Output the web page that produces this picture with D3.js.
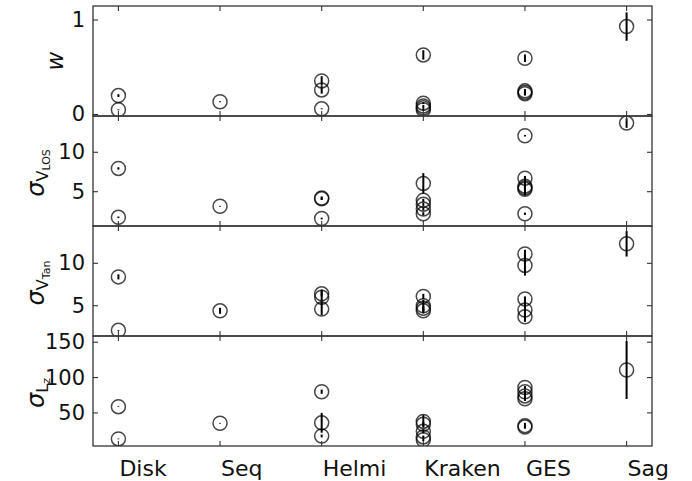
<!DOCTYPE html>
<html>
<head>
<meta charset="utf-8">
<script src="https://cdn.jsdelivr.net/npm/d3@7"></script>
<style>
  body { margin: 0; background: #fff; }
  text { font-family: "DejaVu Sans", sans-serif; fill: #111; }
</style>
</head>
<body>
<div id="chart"></div>
<script>
// categories along the x axis
var categories = ["Disk", "Seq", "Helmi", "Kraken", "GES", "Sag"];

// w (one inner array per category)
var wVals = [[0.20, 0.05], [0.135], [0.355, 0.26, 0.06], [0.63, 0.12, 0.09, 0.07, 0.05], [0.595, 0.25, 0.235, 0.22], [0.93]];
var wErrs = [[0.015, 0.005], [0.005], [0.05, 0.04, 0.005], [0.05, 0.01, 0.01, 0.01, 0.01], [0.04, 0.02, 0.02, 0.02], [0.15]];

// sigma V_LOS
var vlosVals = [[7.95, 1.75], [3.15], [4.2, 4.1, 1.6], [6.05, 3.9, 3.4, 2.8, 2.2], [12.1, 6.7, 5.7, 5.5, 5.3, 2.2], [13.7]];
var vlosErrs = [[0.15, 0.1], [0.05], [0.2, 0.15, 0.1], [1.3, 0.2, 0.2, 0.2, 0.2], [0.1, 0.3, 0.3, 1.0, 0.3, 0.15], [0.6]];

// sigma V_Tan
var vtanVals = [[8.4, 2.1], [4.4], [6.4, 6.0, 4.6], [6.1, 5.0, 4.7, 4.4], [11.1, 9.75, 5.8, 4.5, 3.7], [12.3]];
var vtanErrs = [[0.3, 0.05], [0.35], [0.3, 0.9, 0.7], [0.3, 0.7, 0.3, 0.3], [0.5, 1.2, 0.3, 1.4, 0.2], [1.5]];

// sigma L_z
var lzVals = [[58.8, 13.2], [35.4], [80, 36, 17.4], [38, 34, 24, 16, 12], [86, 80, 74, 70, 32, 30], [110.7]];
var lzErrs = [[0.5, 0.5], [0.5], [3, 14, 2], [9, 3, 3, 2, 2], [2, 3, 7, 2, 4, 2], [41]];

var panels = [
  { vals: wVals, errs: wErrs, domain: [-0.016, 1.148], ticks: [0, 1], label: "w" },
  { vals: vlosVals, errs: vlosErrs, domain: [0.65, 14.6], ticks: [5, 10], label: ["V", "LOS"] },
  { vals: vtanVals, errs: vtanErrs, domain: [1.43, 14.4], ticks: [5, 10], label: ["V", "Tan"] },
  { vals: lzVals, errs: lzErrs, domain: [3.2, 158.8], ticks: [50, 100, 150], label: ["L", "z"] }
];

var svgWidth = 692, svgHeight = 481;
var left = 93, right = 652, top0 = 6, panelH = 110;

var svg = d3.select("#chart").append("svg")
  .attr("width", svgWidth)
  .attr("height", svgHeight);

var x = d3.scaleLinear().domain([-0.25, 5.25]).range([left, right]);
var tickLen = 5;

panels.forEach(function(p, i) {
  var y0 = top0 + i * panelH, y1 = y0 + panelH;
  var y = d3.scaleLinear().domain(p.domain).range([y1, y0]);

  svg.append("clipPath").attr("id", "clip" + i)
    .append("rect").attr("x", left).attr("y", y0).attr("width", right - left).attr("height", panelH);

  var g = svg.append("g");
  var plot = g.append("g").attr("clip-path", "url(#clip" + i + ")");

  var pts = [];
  p.vals.forEach(function(arr, c) {
    arr.forEach(function(v, k) { pts.push({ c: c, v: v, e: p.errs[c][k] }); });
  });

  plot.selectAll(".err").data(pts).enter().append("line")
    .attr("x1", d => x(d.c)).attr("x2", d => x(d.c))
    .attr("y1", d => y(d.v - d.e)).attr("y2", d => y(d.v + d.e))
    .attr("stroke", "#000").attr("stroke-width", 2);

  plot.selectAll(".pt").data(pts).enter().append("circle")
    .attr("cx", d => x(d.c)).attr("cy", d => y(d.v))
    .attr("r", 7)
    .attr("fill", "none")
    .attr("stroke", "rgba(0,0,0,0.72)")
    .attr("stroke-width", 1.5);

  // frame
  g.append("rect").attr("x", left).attr("y", y0).attr("width", right - left).attr("height", panelH)
    .attr("fill", "none").attr("stroke", "#333").attr("stroke-width", 1.3);

  // inward ticks
  categories.forEach(function(c, ci) {
    g.append("line").attr("x1", x(ci)).attr("x2", x(ci)).attr("y1", y1).attr("y2", y1 - tickLen)
      .attr("stroke", "#333").attr("stroke-width", 1.1);
    g.append("line").attr("x1", x(ci)).attr("x2", x(ci)).attr("y1", y0).attr("y2", y0 + tickLen)
      .attr("stroke", "#333").attr("stroke-width", 1.1);
  });
  p.ticks.forEach(function(t) {
    g.append("line").attr("x1", left).attr("x2", left + tickLen).attr("y1", y(t)).attr("y2", y(t))
      .attr("stroke", "#333").attr("stroke-width", 1.1);
    g.append("line").attr("x1", right).attr("x2", right - tickLen).attr("y1", y(t)).attr("y2", y(t))
      .attr("stroke", "#333").attr("stroke-width", 1.1);
    g.append("text").attr("x", left - 8).attr("y", y(t))
      .attr("text-anchor", "end").attr("dominant-baseline", "central")
      .attr("font-size", 21).text(t);
  });

  // y label
  var cy = (y0 + y1) / 2;
  if (i === 0) {
    g.append("text").attr("transform", "translate(63," + cy + ") rotate(-90)")
      .attr("text-anchor", "middle").attr("font-size", 23).attr("font-style", "italic")
      .text(p.label);
  } else {
    var t = g.append("text").attr("transform", "translate(44," + (cy + 2) + ") rotate(-90)")
      .attr("text-anchor", "middle").attr("font-size", 24);
    t.append("tspan").attr("font-style", "italic").text("σ");
    t.append("tspan").attr("font-size", 16).attr("dy", 4).text(p.label[0]);
    t.append("tspan").attr("font-size", 11).attr("dy", 2).text(p.label[1]);
  }

  // category labels on the bottom panel only, starting at the tick
  if (i === panels.length - 1) {
    categories.forEach(function(c, ci) {
      g.append("text").attr("x", x(ci) + 1).attr("y", y1 + 30)
        .attr("text-anchor", "start").attr("font-size", 22).text(c);
    });
  }
});
</script>
</body>
</html>
